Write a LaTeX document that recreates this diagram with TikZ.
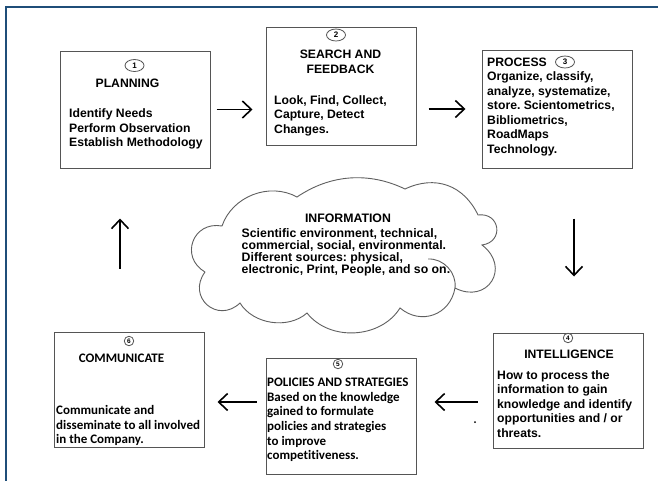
\documentclass[tikz,border=0pt]{standalone}
\usepackage{fontspec}
\setmainfont{Liberation Sans}
\newfontfamily\calib{Carlito}[Ligatures=NoCommon]
\usetikzlibrary{arrows.meta,shapes.geometric}
\definecolor{frameblue}{RGB}{31,78,121}
\definecolor{boxgray}{RGB}{85,85,85}
\definecolor{cloudgray}{RGB}{95,95,95}
\frenchspacing
\tikzset{
  box/.style={draw=boxgray, line width=1pt, fill=white, minimum width=150pt, minimum height=#1, inner sep=0pt},
  arr/.style={line width=1.6pt, -{Straight Barb[length=9pt,width=17pt]}},
  numbig/.style={ellipse, draw=boxgray, line width=0.8pt, fill=white, minimum width=19pt, minimum height=12pt, inner sep=0pt, font=\fontsize{8pt}{8pt}\selectfont\bfseries},
  numsmall/.style={circle, draw=boxgray, line width=0.8pt, fill=white, minimum size=9.5pt, inner sep=0pt, font=\fontsize{6.5pt}{6.5pt}\selectfont\bfseries},
  ar/.style={inner sep=0pt, font=\fontsize{12.2pt}{14.5pt}\selectfont\bfseries},
  ca/.style={inner sep=0pt, font=\calib\fontsize{13pt}{14.7pt}\selectfont\bfseries},
  cl/.style={inner sep=0pt, font=\fontsize{12.3pt}{12pt}\selectfont\bfseries},
  cloudline/.style={draw=cloudgray, line width=0.9pt}
}
\begin{document}
\begin{tikzpicture}[x=1pt,y=-1pt]
\useasboundingbox (0,0) rectangle (658,480);
\fill[white] (0,0) rectangle (658,480);
% frame
\draw[frameblue, line width=2.2pt] (6,481) -- (6,7) -- (659,7);

% boxes
\node[box=117pt] (b1) at (135,109.5) {};
\node[box=118pt] (b2) at (341,86) {};
\node[box=118pt] (b3) at (557,109) {};
\node[box=115pt] (b4) at (568,390.5) {};
\node[box=116pt] (b5) at (341,416) {};
\node[box=115pt] (b6) at (129,389.5) {};

% box 1
\node[numbig] (n1) at (134.5,65.5) {1};
\node[ar, anchor=north] (t1h) at (127.5,78.6) {PLANNING};
\node[ar, anchor=north west, align=left] (t1b) at (69,108.5) {Identify Needs\\Perform Observation\\Establish Methodology};

% box 2
\node[numbig] (n2) at (336,35) {2};
\node[ar, anchor=north, align=center] (t2h) at (340.5,50) {SEARCH AND\\FEEDBACK};
\node[ar, anchor=north west, align=left] (t2b) at (274,95) {Look, Find, Collect,\\Capture, Detect\\Changes.};

% box 3
\node[ar, anchor=north west, align=left] (t3b) at (487,57.7) {PROCESS\\Organize, classify,\\analyze, systematize,\\store. Scientometrics,\\Bibliometrics,\\RoadMaps\\Technology.};
\node[numbig] (n3) at (565,62) {3};

% box 4
\node[numsmall] (n4) at (568,338) {4};
\node[ar, anchor=north] (t4h) at (569,349.3) {INTELLIGENCE};
\node[ar, anchor=north west, align=left] (t4b) at (497,370) {How to process the\\information to gain\\knowledge and identify\\opportunities and / or\\threats.};

% box 5
\node[numsmall] (n5) at (338,364) {5};
\node[ca, anchor=north west, align=left] (t5b) at (267,377.7) {POLICIES AND STRATEGIES\\Based on the knowledge\\gained to formulate\\policies and strategies\\to improve\\competitiveness.};

% box 6
\node[numsmall] (n6) at (129,341) {6};
\node[ca, anchor=north] (t6h) at (121.5,354) {COMMUNICATE};
\node[ca, anchor=north west, align=left] (t6b) at (56,405) {Communicate and\\disseminate to all involved\\in the Company.};

% cloud
\draw[cloudline] (205,272) to[bend left=80, looseness=1.55] (222,226)
  to[bend left=50] (297,197)
  to[bend left=30, looseness=0.95] (405,189)
  to[bend left=45, looseness=1.1] (478,215)
  to[bend left=90, looseness=1.9] (482,245)
  to[bend left=85, looseness=1.85] (455,288)
  to[bend left=60, looseness=1.2] (400,308)
  to[bend left=55] (307,313)
  to[bend left=50, looseness=0.95] (240,303)
  to[bend left=85, looseness=1.7] (205,272);
\draw[cloudline] (428,259) to[bend left=50] (455,288);
\node[cl, anchor=north] (ch) at (348,214) {INFORMATION};
\node[cl, anchor=north west, align=left] (cb) at (241.5,228.3) {Scientific environment, technical,\\commercial, social, environmental.\\Different sources: physical,\\electronic, Print, People, and so on.};

% arrows
\draw[arr, shorten <=6pt, shorten >=13pt] (b1.east) -- (b2.west |- b1.east);
\draw[arr, shorten <=12pt, shorten >=16pt] (b2.east |- b3.west) -- (b3.west);
\draw[arr, shorten <=50pt, shorten >=56pt] ([xshift=6pt]b4.north |- b3.south) -- ([xshift=6pt]b4.north);
\draw[arr, shorten <=15pt, shorten >=18pt] ([yshift=-11.5pt]b4.west) -- ([yshift=-11.5pt]b4.west -| b5.east);
\draw[arr, shorten <=9pt, shorten >=13pt] ([yshift=14pt]b5.west) -- ([yshift=14pt]b5.west -| b6.east);
\draw[arr, shorten <=63pt, shorten >=50pt] ([xshift=-9pt]b6.north) -- ([xshift=-9pt]b6.north |- b1.south);
\fill[black] (475,422) circle (1pt);
\end{tikzpicture}
\end{document}
